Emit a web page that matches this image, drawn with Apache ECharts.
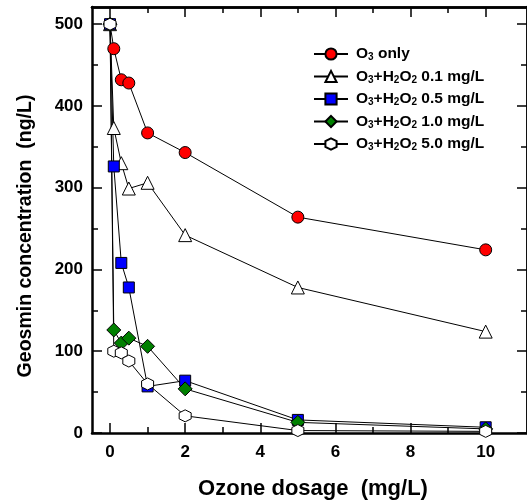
<!DOCTYPE html>
<html>
<head>
<meta charset="utf-8">
<script src="https://cdn.jsdelivr.net/npm/echarts@6/dist/echarts.min.js"></script>
<style>html,body{margin:0;padding:0;background:#fff}#c{width:527px;height:501px}</style>
</head>
<body>
<div id="c"></div>
<script>
var dosage = [0, 0.1, 0.3, 0.5, 1, 2, 5, 10];
var o3Only = [500, 470, 432, 428, 367, 343, 264, 224];
var h2o2_01 = [500, 373, 330, 299, 306, 242, 178, 124];
var h2o2_05 = [500, 326, 208, 178, 57, 64, 16, 7];
var h2o2_10 = [500, 126, 110, 116, 106, 54, 13, 5];
var h2o2_50 = [500, 100, 98, 88, 60, 21, 3, 2];
var seriesNames = ['O3 only', 'O3+H2O2 0.1 mg/L', 'O3+H2O2 0.5 mg/L', 'O3+H2O2 1.0 mg/L', 'O3+H2O2 5.0 mg/L'];
var xMajorTicks = [0, 2, 4, 6, 8, 10];
var xMinorTicks = [1, 3, 5, 7, 9];
var yMajorTicks = [0, 100, 200, 300, 400, 500];
var yMinorTicks = [50, 150, 250, 350, 450];
var xTitle = 'Ozone dosage  (mg/L)';
var yTitle = 'Geosmin concentration  (ng/L)';

var FONT = 'Liberation Sans, Arial, sans-serif';
var hexagon = 'path://M0,-1L0.866,-0.5L0.866,0.5L0,1L-0.866,0.5L-0.866,-0.5Z';
var XMIN = -0.48, XMAX = 11.1, YMIN = 0, YMAX = 521;

function zip(xs, ys) { return xs.map(function (x, i) { return [x, ys[i]]; }); }

function xAx(pos, ticks, len, labels) {
  return {
    type: 'value', position: pos, min: XMIN, max: XMAX,
    axisLine: { show: !!labels || pos === 'top', onZero: false, lineStyle: { color: '#000', width: 2.5 } },
    axisTick: { show: true, inside: true, length: len, customValues: ticks, lineStyle: { color: '#000', width: 1.5 } },
    axisLabel: labels ? { show: true, customValues: ticks, margin: 11, color: '#000', fontSize: 17, fontWeight: 'bold', fontFamily: FONT } : { show: false },
    splitLine: { show: false }
  };
}
function yAx(pos, ticks, len, labels) {
  return {
    type: 'value', position: pos, min: YMIN, max: YMAX,
    axisLine: { show: !!labels || pos === 'right', onZero: false, lineStyle: { color: '#000', width: 2.5 } },
    axisTick: { show: true, inside: true, length: len, customValues: ticks, lineStyle: { color: '#000', width: 1.5 } },
    axisLabel: labels ? { show: true, customValues: ticks, margin: 9, color: '#000', fontSize: 17, fontWeight: 'bold', fontFamily: FONT } : { show: false },
    splitLine: { show: false }
  };
}

var subFmt = function (name) {
  var m = name.match(/^O3(\+H2O2)?(.*)$/);
  if (m[1]) return '{n|O}{s|3}{n|+H}{s|2}{n|O}{s|2}{n|' + m[2] + '}';
  return '{n|O}{s|3}{n|' + m[2] + '}';
};

var styles = [
  { symbol: 'circle', size: 12, color: '#ff0000' },
  { symbol: 'triangle', size: 13, color: '#ffffff' },
  { symbol: 'rect', size: 11, color: '#0000ff' },
  { symbol: 'diamond', size: 14, color: '#008000' },
  { symbol: hexagon, size: 12, color: '#ffffff' }
];
var dataSets = [o3Only, h2o2_01, h2o2_05, h2o2_10, h2o2_50];

var series = dataSets.map(function (d, i) {
  return {
    name: seriesNames[i], type: 'line', xAxisIndex: 0, yAxisIndex: 0,
    data: zip(dosage, d),
    symbol: styles[i].symbol, symbolSize: styles[i].size,
    showAllSymbol: true,
    lineStyle: { color: '#000', width: 1 },
    itemStyle: { color: styles[i].color, borderColor: '#000', borderWidth: 1 },
    emphasis: { disabled: true },
    animation: false
  };
});

var chart = echarts.init(document.getElementById('c'), null, { renderer: 'canvas' });
chart.setOption({
  animation: false,
  grid: { left: 92, top: 7, width: 436, height: 426, containLabel: false },
  xAxis: [
    xAx('bottom', xMajorTicks, 10, true),
    xAx('bottom', xMinorTicks, 6, false),
    xAx('top', xMajorTicks, 10, false),
    xAx('top', xMinorTicks, 6, false)
  ],
  yAxis: [
    yAx('left', yMajorTicks, 10, true),
    yAx('left', yMinorTicks, 6, false),
    yAx('right', yMajorTicks, 10, false),
    yAx('right', yMinorTicks, 6, false)
  ],
  legend: {
    orient: 'vertical', left: 308, top: 41,
    itemWidth: 34, itemHeight: 14, itemGap: 6,
    data: seriesNames,
    formatter: subFmt,
    textStyle: {
      padding: [0, 0, 0, 3],
      rich: {
        n: { fontSize: 15.5, fontWeight: 'bold', fontFamily: FONT, color: '#000', lineHeight: 17 },
        s: { fontSize: 10, fontWeight: 'bold', fontFamily: FONT, color: '#000', lineHeight: 17, verticalAlign: 'bottom' }
      }
    }
  },
  graphic: [
    { type: 'text', x: 313, y: 489, style: { text: xTitle, fill: '#000', font: 'bold 22px ' + FONT, align: 'center', verticalAlign: 'middle' } },
    { type: 'text', x: 26, y: 236, rotation: Math.PI / 2, style: { text: yTitle, fill: '#000', font: 'bold 19.5px ' + FONT, align: 'center', verticalAlign: 'middle' } }
  ],
  series: series
});
</script>
</body>
</html>
